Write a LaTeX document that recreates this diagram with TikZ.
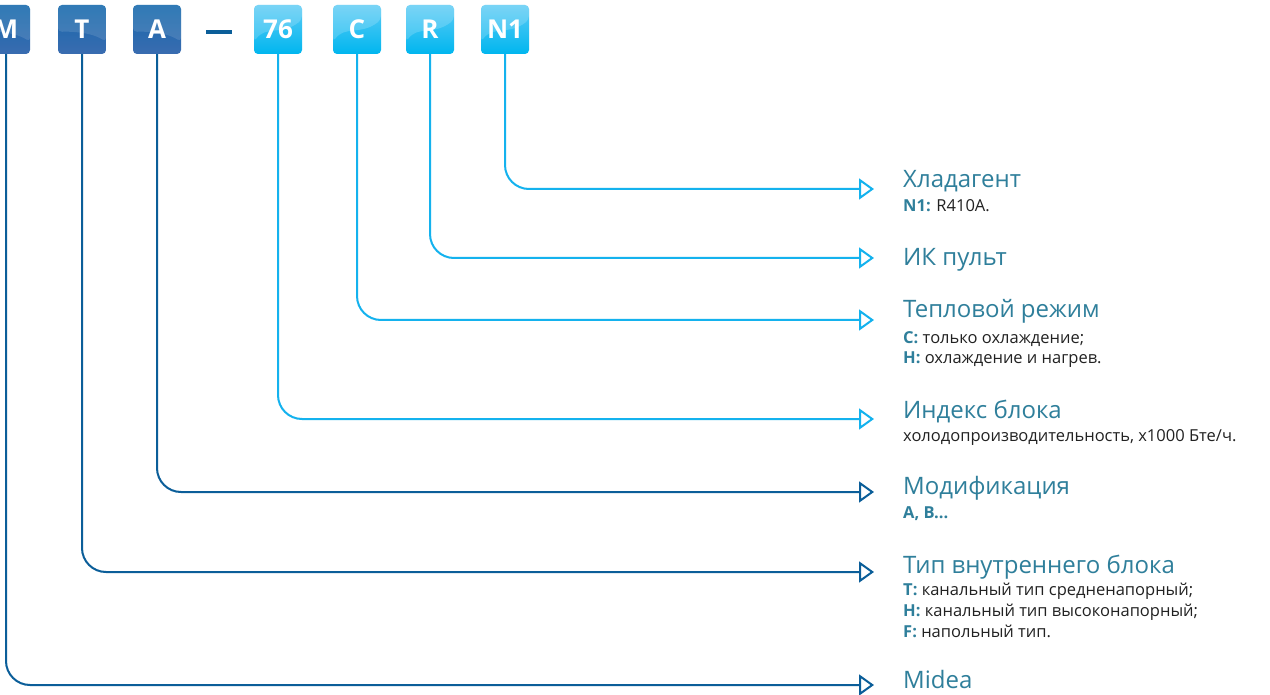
\documentclass[tikz,border=0pt]{standalone}
\usepackage{fontspec}
\setmainfont{Open Sans}
\usetikzlibrary{arrows.meta,calc}
\definecolor{dkline}{HTML}{0B5E99}
\definecolor{ltline}{HTML}{14B2EE}
\definecolor{ttl}{HTML}{2F7F9B}
\definecolor{bodyc}{HTML}{222222}
\definecolor{dkA}{HTML}{1468AC}
\definecolor{dkB}{HTML}{3A6CB0}
\definecolor{ltA}{HTML}{5CCBF5}
\definecolor{ltB}{HTML}{00B6EF}
\newcommand\mylbl[1]{\textcolor{ttl}{\bfseries #1}}
\begin{document}
\begin{tikzpicture}[x=1pt,y=-1pt,
  codebox/.style={minimum width=48pt,minimum height=49pt,inner sep=0pt,
    rounded corners=4pt,text=white,font=\fontsize{26}{26}\selectfont\bfseries},
  darkcode/.style={codebox,top color=dkA,bottom color=dkB,
    path picture={\fill[white,opacity=0.12]
      (path picture bounding box.north west) -- (path picture bounding box.north east)
      -- ($(path picture bounding box.north east)!0.75!(path picture bounding box.south east)$)
      .. controls ($(path picture bounding box.center)+(8pt,-2pt)$) and ($(path picture bounding box.west)+(10pt,-2pt)$)
      .. ($(path picture bounding box.north west)!0.55!(path picture bounding box.south west)$) -- cycle;}},
  lightcode/.style={codebox,top color=ltA,bottom color=ltB,
    path picture={\fill[white,opacity=0.18]
      (path picture bounding box.north west) -- (path picture bounding box.north east)
      -- ($(path picture bounding box.north east)!0.3!(path picture bounding box.south east)$)
      .. controls ($(path picture bounding box.center)+(4pt,-6pt)$) and ($(path picture bounding box.west)+(12pt,4pt)$)
      .. ($(path picture bounding box.north west)!0.75!(path picture bounding box.south west)$) -- cycle;}},
  lead/.style={line width=2pt,rounded corners=24pt,
    -{Triangle[open,length=15pt,width=21pt,line width=2pt]}},
  darklead/.style={lead,draw=dkline},
  lightlead/.style={lead,draw=ltline},
  ttltext/.style={anchor=base west,inner sep=0pt,text=ttl,font=\fontsize{24}{26}\selectfont},
  bodytext/.style={anchor=base west,inner sep=0pt,text=bodyc,font=\fontsize{16.5}{18}\selectfont}
]
\useasboundingbox[fill=white] (0,0) rectangle (1270,695);

% code boxes
\node[darkcode] (bM) at (6,29.5) {M};
\node[darkcode] (bT) at (82,29.5) {T};
\node[darkcode] (bA) at (157,29.5) {A};
\node[lightcode] (b76) at (278,29.5) {76};
\node[lightcode] (bC) at (357,29.5) {C};
\node[lightcode] (bR) at (430,29.5) {R};
\node[lightcode] (bN) at (505,29.5) {N1};
\coordinate (d1) at (206,32);
\coordinate (d2) at (232,32);
\draw[dkline,line width=4pt] (d1) -- (d2);

% end points
\coordinate (eN) at (874,189);
\coordinate (eR) at (874,258);
\coordinate (eC) at (874,320);
\coordinate (e76) at (874,419);
\coordinate (eA) at (874,492);
\coordinate (eT) at (874,572);
\coordinate (eM) at (874,685);

\draw[lightlead] (bN.south) |- (eN);
\draw[lightlead] (bR.south) |- (eR);
\draw[lightlead] (bC.south) |- (eC);
\draw[lightlead] (b76.south) |- (e76);
\draw[darklead] (bA.south) |- (eA);
\draw[darklead] (bT.south) |- (eT);
\draw[darklead] (bM.south) |- (eM);

% texts
\node[ttltext] (tN) at (903,188) {Хладагент};
\node[bodytext] (sN) at (903,212) {\mylbl{N1:} R410A.};

\node[ttltext] (tR) at (903,266) {ИК пульт};

\node[ttltext] (tC) at (903,318) {Тепловой режим};
\node[bodytext] (sC1) at (903,343) {\mylbl{C:} только охлаждение;};
\node[bodytext] (sC2) at (903,363) {\mylbl{H:} охлаждение и нагрев.};

\node[ttltext] (t76) at (903,418) {Индекс блока};
\node[bodytext] (s76) at (903,441) {холодопроизводительность, x1000 Бте/ч.};

\node[ttltext] (tA) at (903,494) {Модификация};
\node[bodytext] (sA) at (903,518) {\mylbl{A, B...}};

\node[ttltext] (tT) at (903,573) {Тип внутреннего блока};
\node[bodytext] (sT1) at (903,595) {\mylbl{T:} канальный тип средненапорный;};
\node[bodytext] (sT2) at (903,616) {\mylbl{H:} канальный тип высоконапорный;};
\node[bodytext] (sT3) at (903,637) {\mylbl{F:} напольный тип.};

\node[ttltext] (tM) at (903,688) {Midea};
\end{tikzpicture}
\end{document}
